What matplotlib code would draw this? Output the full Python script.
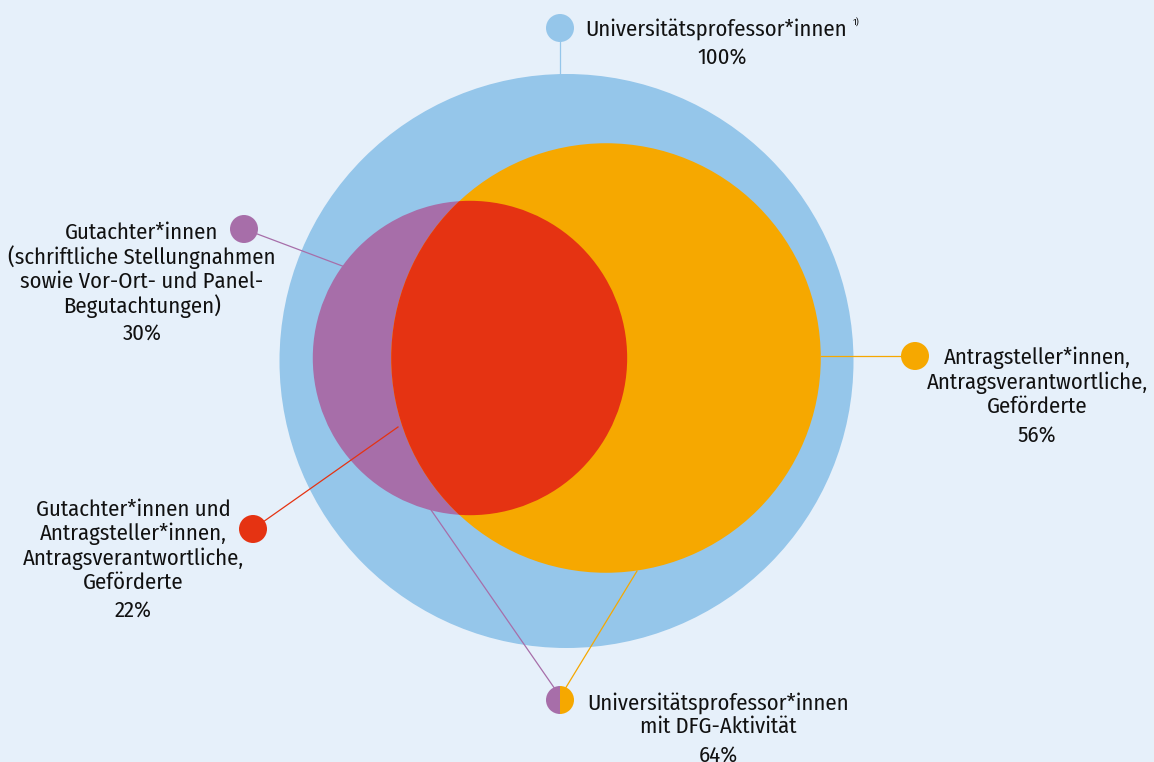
import numpy as np
import matplotlib
matplotlib.use("Agg")
import matplotlib.pyplot as plt
from matplotlib.patches import Circle, Wedge

plt.rcParams["font.family"] = ["Fira Sans Condensed", "Roboto Condensed", "DejaVu Sans"]

# shares of all university professors (percent)
SHARE_ALL = 100
SHARE_APPLICANTS = 56
SHARE_REVIEWERS = 30
SHARE_BOTH = 22
SHARE_DFG = 64

LABEL_ALL = "Universitätsprofessor*innen"
LABEL_APPLICANTS = "Antragsteller*innen,\nAntragsverantwortliche,\nGeförderte"
LABEL_REVIEWERS = ("Gutachter*innen\n(schriftliche Stellungnahmen\n"
                   "sowie Vor-Ort- und Panel-\nBegutachtungen)")
LABEL_BOTH = ("Gutachter*innen und\nAntragsteller*innen,\n"
              "Antragsverantwortliche,\nGeförderte")
LABEL_DFG = "Universitätsprofessor*innen\nmit DFG-Aktivität"

BG = "#E6F0FA"
BLUE = "#95C6EA"
ORANGE = "#F6A800"
PURPLE = "#A76EA9"
RED = "#E53312"
TXT = "#111111"


def lens_area(d, r1, r2):
    a1 = np.arccos((d**2 + r1**2 - r2**2) / (2 * d * r1))
    a2 = np.arccos((d**2 + r2**2 - r1**2) / (2 * d * r2))
    k = np.sqrt((-d + r1 + r2) * (d + r1 - r2) * (d - r1 + r2) * (d + r1 + r2))
    return r1**2 * a1 + r2**2 * a2 - 0.5 * k


def center_distance(r1, r2, target):
    # distance of circle centres so that the overlap has the target area
    lo, hi = abs(r1 - r2) + 1e-6, r1 + r2 - 1e-6
    for _ in range(80):
        mid = (lo + hi) / 2
        if lens_area(mid, r1, r2) > target:
            lo = mid
        else:
            hi = mid
    return (lo + hi) / 2


R = 287.0
r_app = R * np.sqrt(SHARE_APPLICANTS / SHARE_ALL)
r_rev = R * np.sqrt(SHARE_REVIEWERS / SHARE_ALL)
d = center_distance(r_app, r_rev, np.pi * R**2 * SHARE_BOTH / SHARE_ALL)

cx_all, cy_all = 566.5, 361
cx_app, cy_app = 606, 358
cx_rev, cy_rev = cx_app - d, 358

fig = plt.figure(figsize=(11.54, 7.62), dpi=100)
fig.patch.set_facecolor(BG)
ax = fig.add_axes([0, 0, 1, 1])
ax.set_xlim(0, 1154)
ax.set_ylim(762, 0)
ax.set_aspect("equal")
ax.axis("off")

ax.add_patch(Circle((cx_all, cy_all), R, color=BLUE, lw=0, zorder=1))
ax.add_patch(Circle((cx_rev, cy_rev), r_rev, color=PURPLE, lw=0, zorder=2))
app = Circle((cx_app, cy_app), r_app, color=ORANGE, lw=0, zorder=3)
ax.add_patch(app)
both = Circle((cx_rev, cy_rev), r_rev, color=RED, lw=0, zorder=4)
ax.add_patch(both)
both.set_clip_path(app)

dot_r = 14
fs = 16.3
ls = 1.12


def dot(x, y, c):
    ax.add_patch(Circle((x, y), dot_r, color=c, lw=0, zorder=6))


# top: all professors
ax.plot([560, 560], [28, cy_all - R], color=BLUE, lw=0.9, zorder=5)
dot(560, 28, BLUE)
ax.text(585, 29, LABEL_ALL, fontsize=fs, color=TXT, ha="left", va="center")
ax.text(853, 23, "1)", fontsize=7, color=TXT, ha="left", va="center")
ax.text(722, 57, f"{SHARE_ALL}%", fontsize=fs, color=TXT, ha="center", va="center")

# right: applicants
ax.plot([cx_app + r_app, 915], [356, 356], color=ORANGE, lw=0.9, zorder=5)
dot(915, 356, ORANGE)
ax.text(1037, 382, LABEL_APPLICANTS, fontsize=fs, color=TXT, ha="center",
        va="center", linespacing=ls)
ax.text(1037, 435, f"{SHARE_APPLICANTS}%", fontsize=fs, color=TXT,
        ha="center", va="center")

# left: reviewers
ax.plot([244, 345], [229, 267], color=PURPLE, lw=0.9, zorder=5)
dot(244, 229, PURPLE)
ax.text(142, 270, LABEL_REVIEWERS, fontsize=fs, color=TXT, ha="center",
        va="center", linespacing=ls)
ax.text(142, 333, f"{SHARE_REVIEWERS}%", fontsize=fs, color=TXT,
        ha="center", va="center")

# left bottom: both
ax.plot([253, 398], [529, 427], color=RED, lw=0.9, zorder=5)
dot(253, 529, RED)
ax.text(133, 546, LABEL_BOTH, fontsize=fs, color=TXT, ha="center",
        va="center", linespacing=ls)
ax.text(133, 610, f"{SHARE_BOTH}%", fontsize=fs, color=TXT,
        ha="center", va="center")

# bottom: DFG-active
ax.plot([555, 429], [689, 507], color=PURPLE, lw=0.9, zorder=5)
ax.plot([565, 637], [689, 571], color=ORANGE, lw=0.9, zorder=5)
ax.add_patch(Wedge((560, 700), dot_r, 90, 270, color=PURPLE, lw=0, zorder=6))
ax.add_patch(Wedge((560, 700), dot_r, -90, 90, color=ORANGE, lw=0, zorder=6))
ax.text(718, 715, LABEL_DFG, fontsize=fs, color=TXT, ha="center",
        va="center", linespacing=ls)
ax.text(718, 755, f"{SHARE_DFG}%", fontsize=fs, color=TXT,
        ha="center", va="center")

fig.savefig("out.png", dpi=100, facecolor=BG)
